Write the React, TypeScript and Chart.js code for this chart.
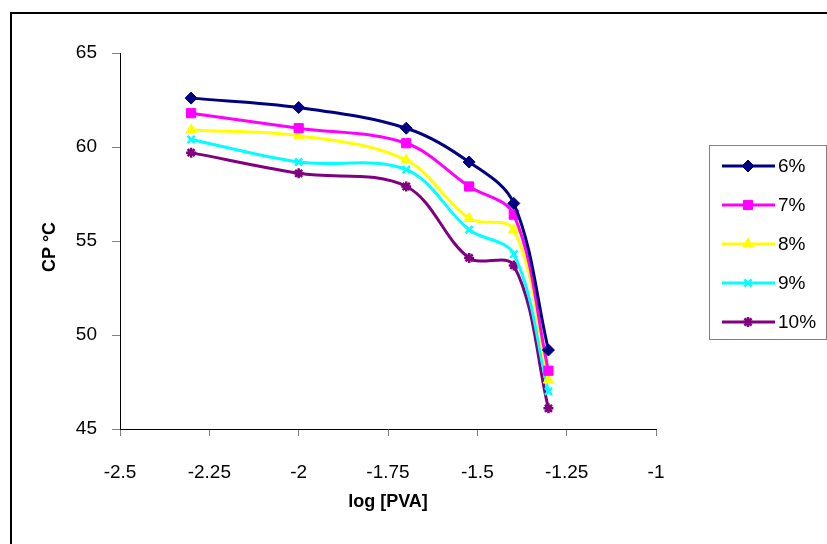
import React, { useEffect, useRef } from "react";
import { Chart, registerables } from "chart.js";
import { drawPoint } from "chart.js/helpers";

Chart.register(...registerables);

const xValues = [-2.301, -2, -1.699, -1.523, -1.398, -1.301];
const series6 = [62.6, 62.1, 61.0, 59.2, 57.0, 49.2];
const series7 = [61.8, 61.0, 60.2, 57.9, 56.4, 48.1];
const series8 = [60.9, 60.6, 59.3, 56.2, 55.6, 47.6];
const series9 = [60.4, 59.2, 58.8, 55.6, 54.3, 47.0];
const series10 = [59.7, 58.6, 57.9, 54.1, 53.7, 46.1];
const seriesLabels = ["6%", "7%", "8%", "9%", "10%"];
const xTitle = "log [PVA]";
const yTitle = "CP °C";

const FONT = "Arial, 'Liberation Sans', sans-serif";

const styles = [
  { color: "#000080", pointStyle: "rectRot", radius: 6, borderWidth: 1 },
  { color: "#FF00FF", pointStyle: "rect", radius: 6.5, borderWidth: 1 },
  { color: "#FFFF00", pointStyle: "triangle", radius: 6, borderWidth: 1 },
  { color: "#00FFFF", pointStyle: "crossRot", radius: 5, borderWidth: 2.5 },
  { color: "#800080", pointStyle: "star", radius: 5, borderWidth: 2.5 },
];

const backgroundPlugin = {
  id: "bgFrame",
  beforeDraw(chart: any) {
    const ctx = chart.ctx;
    ctx.save();
    ctx.fillStyle = "#ffffff";
    ctx.fillRect(0, 0, chart.width, chart.height);
    ctx.strokeStyle = "#000000";
    ctx.lineWidth = 2;
    ctx.beginPath();
    ctx.moveTo(11, chart.height);
    ctx.lineTo(11, 13);
    ctx.lineTo(chart.width, 13);
    ctx.stroke();
    ctx.restore();
  },
};

const yTitlePlugin = {
  id: "yTitle",
  afterDraw(chart: any) {
    const ctx = chart.ctx;
    ctx.save();
    ctx.translate(50, 247);
    ctx.rotate(-Math.PI / 2);
    ctx.fillStyle = "#000000";
    ctx.font = `bold 18px ${FONT}`;
    ctx.textAlign = "center";
    ctx.textBaseline = "middle";
    ctx.fillText(yTitle, 0, 0);
    ctx.restore();
  },
};

const legendPlugin = {
  id: "customLegend",
  afterDraw(chart: any) {
    const ctx = chart.ctx;
    ctx.save();
    ctx.strokeStyle = "#808080";
    ctx.lineWidth = 1;
    ctx.strokeRect(709.5, 145.5, 117, 194);
    const ys = [166, 205, 244, 283, 322];
    chart.data.datasets.forEach((ds: any, i: number) => {
      const y = ys[i];
      ctx.strokeStyle = ds.borderColor;
      ctx.lineWidth = 3;
      ctx.beginPath();
      ctx.moveTo(722, y);
      ctx.lineTo(775, y);
      ctx.stroke();
      ctx.fillStyle = ds.pointBackgroundColor;
      ctx.strokeStyle = ds.pointBorderColor;
      ctx.lineWidth = ds.pointBorderWidth;
      drawPoint(ctx, { pointStyle: ds.pointStyle, radius: ds.pointRadius, rotation: 0, borderWidth: ds.pointBorderWidth }, 748, y);
      ctx.fillStyle = "#000000";
      ctx.font = `19px ${FONT}`;
      ctx.textAlign = "left";
      ctx.textBaseline = "middle";
      ctx.fillText(ds.label, 778, y + 1);
    });
    ctx.restore();
  },
};

function fmt(v: number) {
  const r = Math.round(v * 100) / 100;
  return String(r);
}

export default function App() {
  const ref = useRef<HTMLCanvasElement | null>(null);
  useEffect(() => {
    if (!ref.current) return;
    const all = [series6, series7, series8, series9, series10];
    const chart = new Chart(ref.current, {
      type: "line",
      data: {
        datasets: all.map((s, i) => ({
          label: seriesLabels[i],
          data: s.map((y, j) => ({ x: xValues[j], y })),
          borderColor: styles[i].color,
          backgroundColor: styles[i].color,
          pointBackgroundColor: styles[i].color,
          pointBorderColor: styles[i].color,
          pointBorderWidth: styles[i].borderWidth,
          pointStyle: styles[i].pointStyle as any,
          pointRadius: styles[i].radius,
          borderWidth: 3,
          tension: 0.35,
          fill: false,
        })),
      },
      options: {
        animation: false,
        responsive: false,
        maintainAspectRatio: false,
        layout: { padding: { left: 30, top: 53, right: 171, bottom: 0 } },
        plugins: {
          legend: { display: false },
          tooltip: { enabled: false },
        },
        scales: {
          x: {
            type: "linear",
            min: -2.5,
            max: -1,
            afterFit(scale: any) {
              scale.height = 115;
            },
            ticks: {
              stepSize: 0.25,
              color: "#000000",
              font: { family: FONT, size: 19 },
              padding: 25,
              maxRotation: 0,
              callback: (v: any) => fmt(Number(v)),
            },
            grid: {
              drawOnChartArea: false,
              drawTicks: true,
              tickLength: 7,
              color: "#808080",
            },
            border: { color: "#000000", width: 1 },
            title: {
              display: true,
              text: xTitle,
              color: "#000000",
              font: { family: FONT, size: 18, weight: "bold" },
              padding: { top: 0, bottom: 31 },
            },
          },
          y: {
            type: "linear",
            min: 45,
            max: 65,
            afterFit(scale: any) {
              scale.width = 90;
            },
            ticks: {
              stepSize: 5,
              color: "#000000",
              font: { family: FONT, size: 19 },
              padding: 15,
            },
            grid: {
              drawOnChartArea: false,
              drawTicks: true,
              tickLength: 8,
              color: "#808080",
            },
            border: { color: "#000000", width: 1 },
            title: { display: false },
          },
        },
      },
      plugins: [backgroundPlugin, yTitlePlugin, legendPlugin],
    });
    return () => chart.destroy();
  }, []);
  return (
    <div style={{ position: "fixed", left: 0, top: 0, width: 827, height: 544 }}>
      <canvas ref={ref} width={827} height={544} style={{ width: 827, height: 544, display: "block" }} />
    </div>
  );
}
